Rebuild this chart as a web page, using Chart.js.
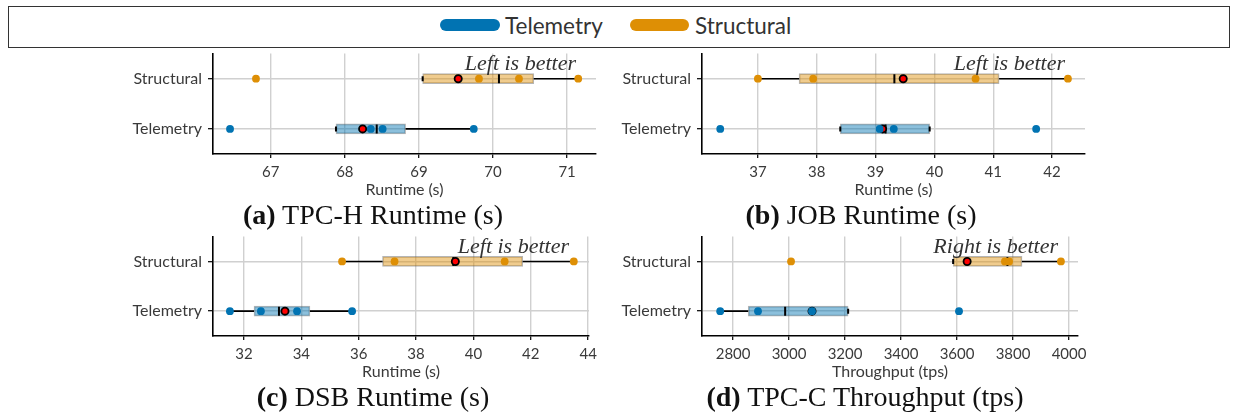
<!DOCTYPE html>
<html>
<head>
<meta charset="utf-8">
<title>Runtime / throughput comparison</title>
<script src="https://cdn.jsdelivr.net/npm/chart.js@4.4.1/dist/chart.umd.min.js"></script>
<style>
  html, body { margin: 0; padding: 0; background: #fff; }
  body { position: relative; width: 1233px; height: 416px; overflow: hidden; font-family: Lato, "DejaVu Sans", sans-serif; color: #333; }
  canvas { position: absolute; }
  .legend-box { position: absolute; left: 8px; top: 6px; width: 1222px; height: 42px; box-sizing: border-box; border: 1.3px solid #333; }
  .pill { position: absolute; height: 12px; border-radius: 6px; }
  .legend-label { position: absolute; font-size: 22.5px; line-height: 24px; color: #333; }
  .caption { position: absolute; width: 500px; text-align: center; font-family: "Liberation Serif", "DejaVu Serif", serif; font-size: 28px; line-height: 30px; color: #111; white-space: nowrap; }
  .caption b { font-weight: bold; }
</style>
</head>
<body>

<div class="legend-box"></div>
<div class="pill" style="left:440px; top:19px; width:60px; background:#0173b2;"></div>
<div class="legend-label" style="left:505px; top:14px;">Telemetry</div>
<div class="pill" style="left:630px; top:19px; width:59px; background:#de8f05;"></div>
<div class="legend-label" style="left:695px; top:14px;">Structural</div>

<canvas id="chartA"></canvas>
<canvas id="chartB"></canvas>
<canvas id="chartC"></canvas>
<canvas id="chartD"></canvas>

<div class="caption" style="left:123px; top:200px;"><b>(a)</b> TPC-H Runtime (s)</div>
<div class="caption" style="left:611px; top:200px;"><b>(b)</b> JOB Runtime (s)</div>
<div class="caption" style="left:123px; top:382px;"><b>(c)</b> DSB Runtime (s)</div>
<div class="caption" style="left:615px; top:382px;"><b>(d)</b> TPC-C Throughput (tps)</div>

<script>
// rows, top to bottom
const rowLabels = ['Structural', 'Telemetry'];

// box stats are [whisker low, q1, median, q3, whisker high]

// TPC-H runtime (s)
const tpchTicks = [67, 68, 69, 70, 71];
const tpchBoxStructural = [69.05, 69.05, 70.08, 70.55, 71.15];
const tpchBoxTelemetry = [67.88, 67.88, 68.43, 68.82, 69.74];
const tpchMeans = [69.53, 68.24];
const tpchRunsStructural = [66.80, 69.81, 70.35, 71.15];
const tpchRunsTelemetry = [66.45, 68.35, 68.51, 69.74];

// JOB runtime (s)
const jobTicks = [37, 38, 39, 40, 41, 42];
const jobBoxStructural = [37.00, 37.70, 39.32, 41.10, 42.27];
const jobBoxTelemetry = [38.40, 38.40, 39.17, 39.92, 39.92];
const jobMeans = [39.47, 39.12];
const jobRunsStructural = [37.00, 37.94, 40.70, 42.27];
const jobRunsTelemetry = [36.36, 39.07, 39.31, 41.73];

// DSB runtime (s)
const dsbTicks = [32, 34, 36, 38, 40, 42, 44];
const dsbBoxStructural = [35.42, 36.83, 39.30, 41.72, 43.50];
const dsbBoxTelemetry = [31.51, 32.35, 33.22, 34.30, 35.77];
const dsbMeans = [39.37, 33.43];
const dsbRunsStructural = [35.42, 37.25, 41.09, 43.50];
const dsbRunsTelemetry = [31.51, 32.59, 33.85, 35.77];

// TPC-C throughput (tps)
const tpccTicks = [2800, 3000, 3200, 3400, 3600, 3800, 4000];
const tpccBoxStructural = [3586, 3586, 3780, 3832, 3971];
const tpccBoxTelemetry = [2754, 2854, 2986, 3211, 3211];
const tpccMeans = [3636, 3082];
const tpccRunsStructural = [3007, 3771, 3786, 3971];
const tpccRunsTelemetry = [2754, 2889, 3082, 3607];

const pointColors = ['#de8f05', '#0173b2'];
const boxFills = ['rgba(222,143,5,0.45)', 'rgba(1,115,178,0.45)'];

const panels = [
  { id: 'chartA', area: { left: 213, right: 596, top: 52, bottom: 154 }, range: [66.22, 71.39],
    ticks: tpchTicks, axisTitle: 'Runtime (s)', note: 'Left is better',
    boxes: [tpchBoxStructural, tpchBoxTelemetry], means: tpchMeans, runs: [tpchRunsStructural, tpchRunsTelemetry] },
  { id: 'chartB', area: { left: 702, right: 1085, top: 52, bottom: 154 }, range: [36.05, 42.56],
    ticks: jobTicks, axisTitle: 'Runtime (s)', note: 'Left is better',
    boxes: [jobBoxStructural, jobBoxTelemetry], means: jobMeans, runs: [jobRunsStructural, jobRunsTelemetry] },
  { id: 'chartC', area: { left: 213, right: 589, top: 235, bottom: 336 }, range: [30.92, 44.03],
    ticks: dsbTicks, axisTitle: 'Runtime (s)', note: 'Left is better',
    boxes: [dsbBoxStructural, dsbBoxTelemetry], means: dsbMeans, runs: [dsbRunsStructural, dsbRunsTelemetry] },
  { id: 'chartD', area: { left: 702, right: 1078, top: 235, bottom: 336 }, range: [2689, 4032],
    ticks: tpccTicks, axisTitle: 'Throughput (tps)', note: 'Right is better',
    boxes: [tpccBoxStructural, tpccBoxTelemetry], means: tpccMeans, runs: [tpccRunsStructural, tpccRunsTelemetry] },
];

const Y_AXIS_W = 120;
const X_AXIS_H = 48;
const PAD_TOP = 14;
const PAD_RIGHT = 20;

// "Left is better" style hint in the top-right corner of each plot
const notePlugin = {
  id: 'note',
  afterDraw(chart, args, opts) {
    const { ctx, chartArea } = chart;
    ctx.save();
    ctx.font = 'italic 22px "Liberation Serif", "DejaVu Serif", serif';
    ctx.fillStyle = '#333';
    ctx.textAlign = 'right';
    ctx.textBaseline = 'middle';
    ctx.fillText(opts.text, chartArea.right - 20, chartArea.top + 11);
    ctx.restore();
  }
};

function at(v, r) {
  return { x: v, y: rowLabels[r] };
}

function buildDatasets(p) {
  const ds = [];

  // individual runs (drawn on top)
  p.runs.forEach((vals, r) => {
    ds.push({
      type: 'scatter', order: 1,
      data: vals.map(v => at(v, r)),
      pointRadius: 3.9, pointBackgroundColor: pointColors[r], pointBorderWidth: 0
    });
  });

  // means
  ds.push({
    type: 'scatter', order: 2,
    data: p.means.map((v, r) => at(v, r)),
    pointRadius: 3.6, pointBackgroundColor: '#ff0000', pointBorderColor: '#000', pointBorderWidth: 1.8
  });

  // medians
  ds.push({
    type: 'scatter', order: 3,
    data: p.boxes.map((b, r) => at(b[2], r)),
    pointStyle: 'line', pointRotation: 90, pointRadius: 4.5, pointBorderColor: '#000', pointBorderWidth: 2
  });

  // whisker caps
  ds.push({
    type: 'scatter', order: 4,
    data: p.boxes.flatMap((b, r) => [at(b[0], r), at(b[4], r)]),
    pointStyle: 'line', pointRotation: 90, pointRadius: 2.5, pointBorderColor: '#000', pointBorderWidth: 2
  });

  // whiskers
  p.boxes.forEach((b, r) => {
    [[b[0], b[1]], [b[3], b[4]]].forEach(seg => {
      ds.push({
        type: 'line', order: 4,
        data: [at(seg[0], r), at(seg[1], r)],
        borderColor: '#000', borderWidth: 1.6, pointRadius: 0, fill: false
      });
    });
  });

  // boxes q1..q3
  ds.push({
    type: 'bar', order: 5, indexAxis: 'y',
    data: p.boxes.map(b => [b[1], b[3]]),
    backgroundColor: boxFills,
    borderColor: 'rgba(90,90,90,0.45)', borderWidth: 1, borderSkipped: false,
    barThickness: 10
  });

  return ds;
}

panels.forEach(p => {
  const canvas = document.getElementById(p.id);
  const left = p.area.left - Y_AXIS_W;
  const top = p.area.top - PAD_TOP;
  const width = p.area.right + PAD_RIGHT - left;
  const height = p.area.bottom + X_AXIS_H - top;
  canvas.width = width;
  canvas.height = height;
  canvas.style.left = left + 'px';
  canvas.style.top = top + 'px';
  canvas.style.width = width + 'px';
  canvas.style.height = height + 'px';

  const gridColor = '#d0d0d0';

  new Chart(canvas, {
    type: 'scatter',
    data: { labels: rowLabels, datasets: buildDatasets(p) },
    plugins: [notePlugin],
    options: {
      responsive: false,
      animation: false,
      events: [],
      layout: { padding: { left: 0, top: PAD_TOP, right: PAD_RIGHT, bottom: 0 } },
      plugins: {
        legend: { display: false },
        tooltip: { enabled: false },
        note: { text: p.note }
      },
      scales: {
        x: {
          type: 'linear',
          min: p.range[0],
          max: p.range[1],
          afterBuildTicks: s => { s.ticks = p.ticks.map(v => ({ value: v })); },
          afterFit: s => { s.height = X_AXIS_H; },
          grid: { color: gridColor, lineWidth: 1.4, tickColor: '#000', tickLength: 4, tickWidth: 1.2 },
          border: { display: true, color: '#000', width: 1.6 },
          ticks: {
            color: '#3a3a3a', font: { family: 'Lato', size: 15 }, padding: 5,
            maxRotation: 0, autoSkip: false,
            callback: v => String(v)
          },
          title: {
            display: true, text: p.axisTitle, color: '#3a3a3a',
            font: { family: 'Lato', size: 16 }, padding: { top: 0, bottom: 3 }
          }
        },
        y: {
          type: 'category',
          labels: rowLabels,
          offset: true,
          afterFit: s => { s.width = Y_AXIS_W; },
          grid: { offset: false, color: gridColor, lineWidth: 1.4, tickColor: '#000', tickLength: 5, tickWidth: 1.2 },
          border: { display: true, color: '#000', width: 1.6 },
          ticks: { color: '#3a3a3a', font: { family: 'Lato', size: 16 }, padding: 6 }
        }
      }
    }
  });
});
</script>
</body>
</html>
